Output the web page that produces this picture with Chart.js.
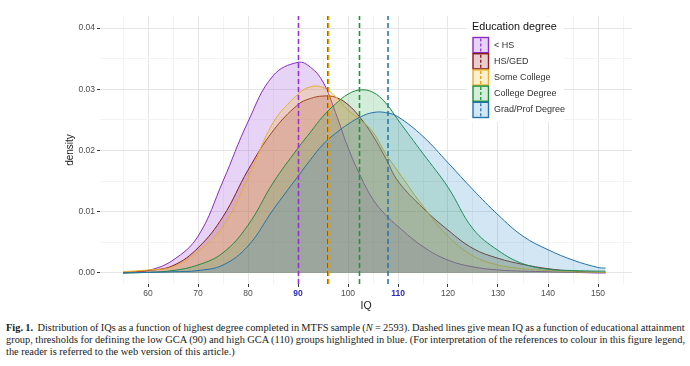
<!DOCTYPE html>
<html lang="en">
<head>
<meta charset="UTF-8">
<title>Distribution of IQs by education degree</title>
<script src="https://cdn.jsdelivr.net/npm/chart.js@4.4.0/dist/chart.umd.min.js"></script>
<style>
    body { margin: 0; background: #fff; }
    #wrap { position: relative; width: 690px; height: 366px; overflow: hidden; }
    #iqChart { position: absolute; left: 0; top: 0; }
    #caption {
        position: absolute; left: 6px; top: 322px; width: 679px;
        font-family: "Liberation Serif", "DejaVu Serif", serif;
        font-size: 10.4px; line-height: 12px; color: #1a1a1a;
    }
    #caption div { white-space: nowrap; }
</style>
</head>
<body>
<div id="wrap">
    <canvas id="iqChart" width="690" height="316"></canvas>
    <div id="caption">
        <div class="fit"><b>Fig. 1.</b>&nbsp; Distribution of IQs as a function of highest degree completed in MTFS sample (<i>N</i> = 2593). Dashed lines give mean IQ as a function of educational attainment</div>
        <div class="fit">group, thresholds for defining the low GCA (90) and high GCA (110) groups highlighted in blue. (For interpretation of the references to colour in this figure legend,</div>
        <div>the reader is referred to the web version of this article.)</div>
    </div>
</div>

<script>
// IQ grid the densities were read at
const iq = [55, 60, 65, 70, 75, 80, 85, 90, 92.5, 95, 97.5, 100, 102.5, 105, 107.5, 110, 115, 120, 125, 130, 135, 140, 145, 150, 151.5];

const groups = ['< HS', 'HS/GED', 'Some College', 'College Degree', 'Grad/Prof Degree'];

const densLessHS  = [0.0000, 0.0004, 0.0021, 0.0060, 0.0150, 0.0247, 0.0322, 0.0344, 0.0336, 0.0312, 0.0262, 0.0205, 0.0158, 0.0120, 0.0095, 0.0076, 0.0043, 0.0021, 0.0010, 0.0005, 0.0003, 0.0002, 0.0001, 0.0000, 0.0000];
const densHSGED   = [0.0001, 0.0004, 0.0012, 0.0041, 0.0092, 0.0168, 0.0232, 0.0275, 0.0285, 0.0289, 0.0287, 0.0275, 0.0253, 0.0224, 0.0188, 0.0150, 0.0106, 0.0070, 0.0040, 0.0024, 0.0014, 0.0007, 0.0003, 0.0001, 0.0001];
const densSomeCol = [0.0002, 0.0005, 0.0010, 0.0035, 0.0076, 0.0155, 0.0245, 0.0292, 0.0304, 0.0303, 0.0288, 0.0266, 0.0250, 0.0230, 0.0195, 0.0166, 0.0109, 0.0060, 0.0028, 0.0013, 0.0007, 0.0004, 0.0002, 0.0001, 0.0001];
const densCollege = [0.0000, 0.0001, 0.0004, 0.0013, 0.0033, 0.0078, 0.0147, 0.0204, 0.0230, 0.0256, 0.0276, 0.0292, 0.0299, 0.0295, 0.0278, 0.0250, 0.0195, 0.0140, 0.0072, 0.0037, 0.0015, 0.0006, 0.0004, 0.0003, 0.0003];
const densGrad    = [0.0000, 0.0001, 0.0002, 0.0004, 0.0013, 0.0044, 0.0103, 0.0158, 0.0185, 0.0210, 0.0228, 0.0243, 0.0255, 0.0262, 0.0262, 0.0255, 0.0223, 0.0180, 0.0136, 0.0095, 0.0060, 0.0038, 0.0021, 0.0009, 0.0008];

// mean IQ per group (dashed lines)
const meanIQ = [90.1, 96.0, 96.1, 102.3, 108.0];

// low / high GCA thresholds shown in blue on the axis
const thresholds = [90, 110];

const xTicksMajor = [60, 70, 80, 90, 100, 110, 120, 130, 140, 150];

const lineColors = ['#8a2bc2', '#8b1a1a', '#e6ae2e', '#1e8c3a', '#2372aa'];
const fillColors = ['rgba(160,80,220,0.25)', 'rgba(150,30,30,0.22)', 'rgba(245,190,55,0.25)', 'rgba(40,160,70,0.2)', 'rgba(50,140,200,0.22)'];
const vlineColors = ['#9a32d2', '#8b1010', '#e89a00', '#1e9432', '#2a78b0'];

const densities = [densLessHS, densHSGED, densSomeCol, densCollege, densGrad];

const Y_MIN = -0.0018, Y_MAX = 0.04197;

// ✅ density areas (last group drawn on top, like ggplot)
const areaSets = groups.map((g, i) => ({
    label: g,
    data: iq.map((x, k) => ({ x: x, y: densities[i][k] })),
    borderColor: lineColors[i],
    backgroundColor: fillColors[i],
    borderWidth: 1,
    fill: 'origin',
    pointRadius: 0,
    tension: 0.4,
    order: 20 - i
}));

// ✅ mean lines, on top of the areas
const meanSets = groups.map((g, i) => ({
    label: g + ' mean',
    data: [{ x: meanIQ[i], y: Y_MIN }, { x: meanIQ[i], y: Y_MAX }],
    borderColor: vlineColors[i],
    borderWidth: 1.6,
    borderDash: [5, 3],
    pointRadius: 0,
    fill: false,
    tension: 0,
    order: 10 - i
}));

const tickVal = c => (c && c.tick) ? c.tick.value : NaN;
const isMajorX = v => Math.abs(v % 10) < 1e-6;
const isMajorY = v => Math.abs(Math.round(v * 1000) % 10) === 0;

// ✅ legend drawn inside the panel
const legendPlugin = {
    id: 'eduLegend',
    afterDraw(chart) {
        const ctx = chart.ctx;
        ctx.save();
        ctx.fillStyle = '#ffffff';
        ctx.fillRect(467, 17, 97, 105);

        ctx.fillStyle = '#111';
        ctx.font = '10.8px "Liberation Sans", Arial, sans-serif';
        ctx.textBaseline = 'middle';
        ctx.textAlign = 'left';
        ctx.fillText('Education degree', 472, 27);

        const keyH = 16.2;
        groups.forEach((g, i) => {
            const y0 = 37 + i * keyH;
            ctx.fillStyle = fillColors[i];
            ctx.fillRect(473, y0 + 0.5, 15.5, keyH - 1);
            ctx.strokeStyle = lineColors[i];
            ctx.lineWidth = 1.4;
            ctx.setLineDash([]);
            ctx.strokeRect(473, y0 + 0.5, 15.5, keyH - 1);
            ctx.strokeStyle = vlineColors[i];
            ctx.lineWidth = 1.3;
            ctx.setLineDash([3, 2]);
            ctx.beginPath();
            ctx.moveTo(480.75, y0 + 1.5);
            ctx.lineTo(480.75, y0 + keyH - 1.5);
            ctx.stroke();

            ctx.fillStyle = '#333';
            ctx.font = '9px "Liberation Sans", Arial, sans-serif';
            ctx.fillText(g, 494, y0 + keyH / 2);
        });
        ctx.restore();
    }
};

new Chart(document.getElementById('iqChart').getContext('2d'), {
    type: 'line',
    data: { datasets: areaSets.concat(meanSets) },
    options: {
        responsive: false,
        animation: false,
        layout: { padding: { left: 0, right: 58, top: 16, bottom: 0 } },
        plugins: {
            legend: { display: false },
            tooltip: { enabled: false }
        },
        scales: {
            x: {
                type: 'linear',
                min: 50.4,
                max: 156.8,
                afterFit: s => { s.height = 32; },
                border: { display: false },
                grid: {
                    color: c => isMajorX(tickVal(c)) ? '#e6e6e6' : '#f3f3f3',
                    tickColor: c => isMajorX(tickVal(c)) ? '#333' : 'rgba(0,0,0,0)',
                    tickLength: 3,
                    tickWidth: 1
                },
                ticks: {
                    stepSize: 5,
                    includeBounds: false,
                    autoSkip: false,
                    maxRotation: 0,
                    padding: 2,
                    callback: v => xTicksMajor.includes(v) ? String(v) : '',
                    color: c => thresholds.includes(tickVal(c)) ? '#2a2ab8' : '#4d4d4d',
                    font: c => ({
                        family: '"Liberation Sans", Arial, sans-serif',
                        size: 8.5,
                        weight: thresholds.includes(tickVal(c)) ? 'bold' : 'normal'
                    })
                },
                title: {
                    display: true,
                    text: 'IQ',
                    color: '#1a1a1a',
                    font: { family: '"Liberation Sans", Arial, sans-serif', size: 10.5 },
                    padding: { top: 0, bottom: 4 }
                }
            },
            y: {
                type: 'linear',
                min: Y_MIN,
                max: Y_MAX,
                afterFit: s => { s.width = 100; },
                border: { display: false },
                grid: {
                    color: c => isMajorY(tickVal(c)) ? '#e6e6e6' : '#f3f3f3',
                    tickColor: c => isMajorY(tickVal(c)) ? '#333' : 'rgba(0,0,0,0)',
                    tickLength: 3,
                    tickWidth: 1
                },
                ticks: {
                    stepSize: 0.005,
                    includeBounds: false,
                    autoSkip: false,
                    padding: 2,
                    color: '#4d4d4d',
                    font: { family: '"Liberation Sans", Arial, sans-serif', size: 8.5 },
                    callback: v => isMajorY(v) ? v.toFixed(2) : ''
                },
                title: {
                    display: true,
                    text: 'density',
                    color: '#1a1a1a',
                    font: { family: '"Liberation Sans", Arial, sans-serif', size: 10 },
                    padding: { top: 64, bottom: 0 }
                }
            }
        }
    },
    plugins: [legendPlugin]
});

// ✅ stretch the first two caption lines to the full width (justified)
document.querySelectorAll('#caption .fit').forEach(el => {
    el.style.display = 'inline-block';
    const w = el.getBoundingClientRect().width;
    const spaces = (el.textContent.match(/ /g) || []).length;
    el.style.display = 'block';
    if (spaces > 0) el.style.wordSpacing = ((679 - w) / spaces) + 'px';
});
</script>
</body>
</html>
